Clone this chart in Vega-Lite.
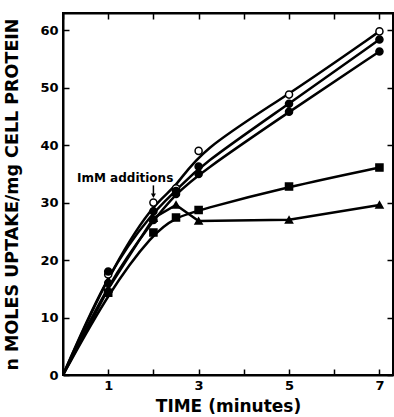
{
  "$schema": "https://vega.github.io/schema/vega-lite/v6.json",
  "autosize": "none",
  "width": 330,
  "height": 362,
  "padding": {"left": 63, "top": 13, "right": 1, "bottom": 42},
  "background": "white",
  "config": {
    "font": "DejaVu Sans",
    "view": {"stroke": "black", "strokeWidth": 2},
    "axis": {
      "grid": false,
      "domainColor": "black",
      "domainWidth": 2,
      "tickColor": "black",
      "tickWidth": 1.5,
      "tickSize": -6,
      "labelFont": "DejaVu Sans",
      "labelFontWeight": "bold",
      "labelFontSize": 13,
      "labelColor": "black",
      "titleFont": "DejaVu Sans",
      "titleFontWeight": "bold",
      "titleColor": "black"
    }
  },
  "resolve": {"axis": {"x": "independent", "y": "independent"}},
  "data": {
    "values": [
      {"s": "A", "t": 0, "v": 0}, {"s": "A", "t": 1, "v": 17.5}, {"s": "A", "t": 2, "v": 30}, {"s": "A", "t": 2.5, "v": 32.5}, {"s": "A", "t": 3, "v": 39}, {"s": "A", "t": 5, "v": 48.8}, {"s": "A", "t": 7, "v": 59.8},
      {"s": "B", "t": 0, "v": 0}, {"s": "B", "t": 1, "v": 18}, {"s": "B", "t": 2, "v": 28.5}, {"s": "B", "t": 2.5, "v": 32}, {"s": "B", "t": 3, "v": 36.3}, {"s": "B", "t": 5, "v": 47.2}, {"s": "B", "t": 7, "v": 58.4},
      {"s": "C", "t": 0, "v": 0}, {"s": "C", "t": 1, "v": 16}, {"s": "C", "t": 2, "v": 27}, {"s": "C", "t": 2.5, "v": 31.5}, {"s": "C", "t": 3, "v": 35}, {"s": "C", "t": 5, "v": 45.8}, {"s": "C", "t": 7, "v": 56.3},
      {"s": "D", "t": 0, "v": 0}, {"s": "D", "t": 1, "v": 14.3}, {"s": "D", "t": 2, "v": 24.8}, {"s": "D", "t": 2.5, "v": 27.4}, {"s": "D", "t": 3, "v": 28.7}, {"s": "D", "t": 5, "v": 32.8}, {"s": "D", "t": 7, "v": 36.1},
      {"s": "E", "t": 0, "v": 0}, {"s": "E", "t": 1, "v": 15}, {"s": "E", "t": 2, "v": 27.3}, {"s": "E", "t": 2.5, "v": 29.6}, {"s": "E", "t": 3, "v": 26.8}, {"s": "E", "t": 5, "v": 27}, {"s": "E", "t": 7, "v": 29.6}
    ]
  },
  "layer": [
    {
      "transform": [{"filter": "datum.s !== 'E'"}],
      "mark": {"type": "line", "interpolate": "basis", "color": "black", "strokeWidth": 2.5},
      "encoding": {
        "x": {"field": "t", "type": "quantitative", "scale": {"domain": [0, 7.3], "nice": false},
          "axis": {"values": [0, 1, 2, 3, 4, 5, 6, 7], "labelExpr": "datum.value % 2 == 1 ? datum.label : ''", "title": "TIME (minutes)", "titleFontSize": 17, "titlePadding": 6, "labelPadding": 10}},
        "y": {"field": "v", "type": "quantitative", "scale": {"domain": [0, 63], "nice": false},
          "axis": {"values": [0, 10, 20, 30, 40, 50, 60], "title": "n MOLES UPTAKE/mg CELL PROTEIN", "titleFontSize": 17.5, "titlePadding": 18, "labelPadding": 11}},
        "detail": {"field": "s"}
      }
    },
    {
      "transform": [{"filter": "datum.s === 'E'"}],
      "mark": {"type": "line", "interpolate": "linear", "color": "black", "strokeWidth": 2.5},
      "encoding": {
        "x": {"field": "t", "type": "quantitative", "axis": {"orient": "top", "values": [0, 1, 2, 3, 4, 5, 6, 7], "labels": false, "title": null}},
        "y": {"field": "v", "type": "quantitative", "axis": {"orient": "right", "values": [0, 10, 20, 30, 40, 50, 60], "labels": false, "title": null}}
      }
    },
    {
      "transform": [{"filter": "datum.t > 0"}],
      "mark": {"type": "point", "filled": false, "size": 50, "strokeWidth": 1.5, "opacity": 1},
      "encoding": {
        "x": {"field": "t", "type": "quantitative", "axis": null},
        "y": {"field": "v", "type": "quantitative", "axis": null},
        "shape": {"field": "s", "type": "nominal", "scale": {"domain": ["A", "B", "C", "D", "E"], "range": ["circle", "circle", "circle", "square", "triangle-up"]}, "legend": null},
        "fill": {"field": "s", "type": "nominal", "scale": {"domain": ["A", "B", "C", "D", "E"], "range": ["white", "black", "black", "black", "black"]}, "legend": null},
        "stroke": {"value": "black"}
      }
    },
    {
      "data": {"values": [{"t": 0.31, "v": 34.3, "label": "ImM additions"}]},
      "mark": {"type": "text", "align": "left", "baseline": "middle", "fontWeight": "bold", "fontSize": 12, "font": "DejaVu Sans", "color": "black"},
      "encoding": {
        "x": {"field": "t", "type": "quantitative", "axis": null},
        "y": {"field": "v", "type": "quantitative", "axis": null},
        "text": {"field": "label"}
      }
    },
    {
      "data": {"values": [{"t": 2, "v1": 33, "v2": 31.2}]},
      "mark": {"type": "rule", "color": "black", "strokeWidth": 1.5},
      "encoding": {
        "x": {"field": "t", "type": "quantitative", "axis": null},
        "y": {"field": "v1", "type": "quantitative", "axis": null},
        "y2": {"field": "v2"}
      }
    },
    {
      "data": {"values": [{"t": 2, "v": 31.2}]},
      "mark": {"type": "point", "shape": "triangle-down", "filled": true, "color": "black", "size": 25, "opacity": 1},
      "encoding": {
        "x": {"field": "t", "type": "quantitative", "axis": null},
        "y": {"field": "v", "type": "quantitative", "axis": null}
      }
    }
  ]
}
